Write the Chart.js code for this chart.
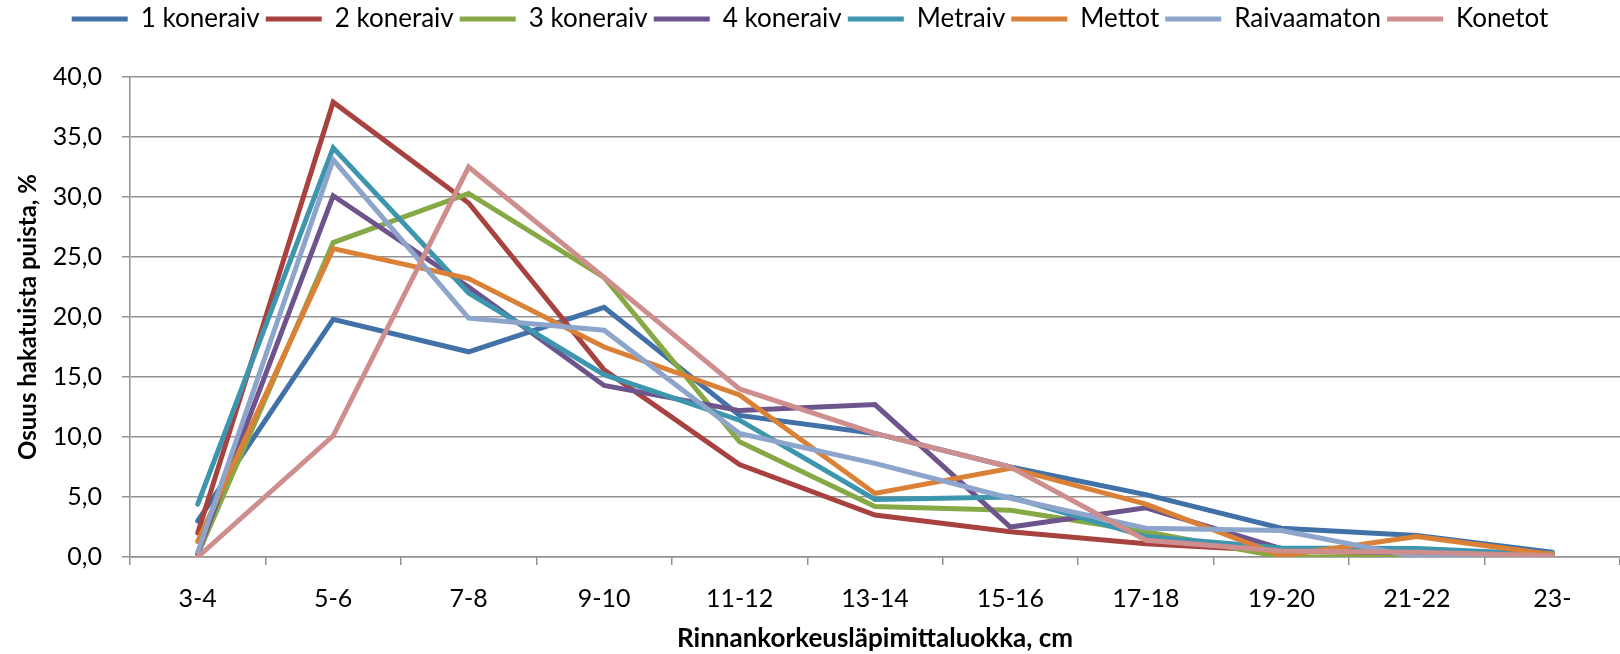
<!DOCTYPE html>
<html lang="fi">
<head>
    <meta charset="UTF-8">
    <title>Osuus hakatuista puista</title>
    <script src="https://cdn.jsdelivr.net/npm/chart.js"></script>
    <style>
        body { margin: 0; background: #fff; }
        .chart-box { width: 1620px; height: 654px; }
    </style>
</head>
<body>
    <div class="chart-box">
        <canvas id="diameterChart"></canvas>
    </div>

    <script>
        // Data
        const categories = ['3-4', '5-6', '7-8', '9-10', '11-12', '13-14', '15-16', '17-18', '19-20', '21-22', '23-'];
        const koneraiv1 = [3.0, 19.8, 17.1, 20.8, 11.8, 10.3, 7.5, 5.2, 2.4, 1.8, 0.4];
        const koneraiv2 = [2.0, 37.9, 29.5, 15.6, 7.7, 3.5, 2.1, 1.1, 0.5, 0.3, 0.0];
        const koneraiv3 = [0.2, 26.2, 30.3, 23.3, 9.6, 4.2, 3.9, 2.1, 0.0, 0.0, 0.3];
        const koneraiv4 = [0.3, 30.1, 22.5, 14.3, 12.2, 12.7, 2.5, 4.1, 0.7, 0.3, 0.1];
        const metraiv = [4.4, 34.1, 22.0, 15.2, 11.4, 4.8, 5.0, 1.7, 0.75, 0.7, 0.2];
        const mettot = [1.3, 25.7, 23.2, 17.5, 13.5, 5.3, 7.4, 4.4, 0.1, 1.7, 0.2];
        const raivaamaton = [0.4, 33.1, 19.9, 18.9, 10.3, 7.8, 4.9, 2.4, 2.2, 0.0, 0.0];
        const konetot = [0.0, 10.1, 32.5, 23.3, 14.0, 10.3, 7.5, 1.4, 0.5, 0.4, 0.1];

        const seriesNames = ['1 koneraiv', '2 koneraiv', '3 koneraiv', '4 koneraiv', 'Metraiv', 'Mettot', 'Raivaamaton', 'Konetot'];
        const seriesData = [koneraiv1, koneraiv2, koneraiv3, koneraiv4, metraiv, mettot, raivaamaton, konetot];
        const seriesColors = ['#4271A8', '#A8423F', '#86A845', '#6E548D', '#3D96AE', '#DA8137', '#8EA5CB', '#CE8E8D'];

        const FONT = 'Lato, "Open Sans", sans-serif';
        const GRID = '#929292';

        // Excel draws later series on top; lower order = drawn last in Chart.js
        const datasets = seriesNames.map((name, i) => ({
            label: name,
            data: seriesData[i],
            borderColor: seriesColors[i],
            backgroundColor: seriesColors[i],
            borderWidth: 5,
            borderCapStyle: 'round',
            borderJoinStyle: 'miter',
            pointRadius: 0,
            tension: 0,
            order: seriesNames.length - i
        }));

        // fixed legend height so the plot starts where it does in the original
        const legendHeight = {
            id: 'legendHeight',
            beforeInit(chart) {
                const origFit = chart.legend.fit;
                chart.legend.fit = function () {
                    origFit.bind(chart.legend)();
                    this.height = 77;
                };
            }
        };

        const ctx = document.getElementById('diameterChart').getContext('2d');
        new Chart(ctx, {
            type: 'line',
            data: { labels: categories, datasets: datasets },
            plugins: [legendHeight],
            options: {
                responsive: true,
                maintainAspectRatio: false,
                animation: false,
                layout: { padding: 0 },
                plugins: {
                    tooltip: { enabled: false },
                    legend: {
                        position: 'top',
                        labels: {
                            sort: (a, b) => a.datasetIndex - b.datasetIndex,
                            usePointStyle: true,
                            pointStyle: 'line',
                            pointStyleWidth: 56,
                            padding: 6,
                            color: '#000',
                            font: { family: FONT, size: 26 }
                        }
                    }
                },
                scales: {
                    x: {
                        offset: true,
                        afterFit: (scale) => { scale.height = 97; },
                        grid: {
                            offset: true,
                            drawOnChartArea: false,
                            drawTicks: true,
                            tickLength: 8,
                            color: GRID,
                            lineWidth: 1.5
                        },
                        border: { color: GRID, width: 1.5 },
                        ticks: {
                            color: '#000',
                            padding: 19,
                            maxRotation: 0,
                            font: { family: FONT, size: 25 }
                        },
                        title: {
                            display: true,
                            text: 'Rinnankorkeusläpimittaluokka, cm',
                            color: '#000',
                            padding: { top: 0, bottom: 0 },
                            font: { family: FONT, size: 26, weight: 'bold' }
                        }
                    },
                    y: {
                        min: 0,
                        max: 40,
                        afterFit: (scale) => { scale.width = 130; },
                        grid: {
                            color: GRID,
                            lineWidth: 1.5,
                            drawTicks: true,
                            tickLength: 8
                        },
                        border: { color: GRID, width: 1.5 },
                        ticks: {
                            stepSize: 5,
                            color: '#000',
                            padding: 20,
                            font: { family: FONT, size: 25 },
                            callback: (v) => v.toFixed(1).replace('.', ',')
                        },
                        title: {
                            display: true,
                            text: 'Osuus hakatuista puista, %',
                            color: '#000',
                            padding: { top: 14, bottom: 0 },
                            font: { family: FONT, size: 24, weight: 'bold' }
                        }
                    }
                }
            }
        });
    </script>
</body>
</html>
